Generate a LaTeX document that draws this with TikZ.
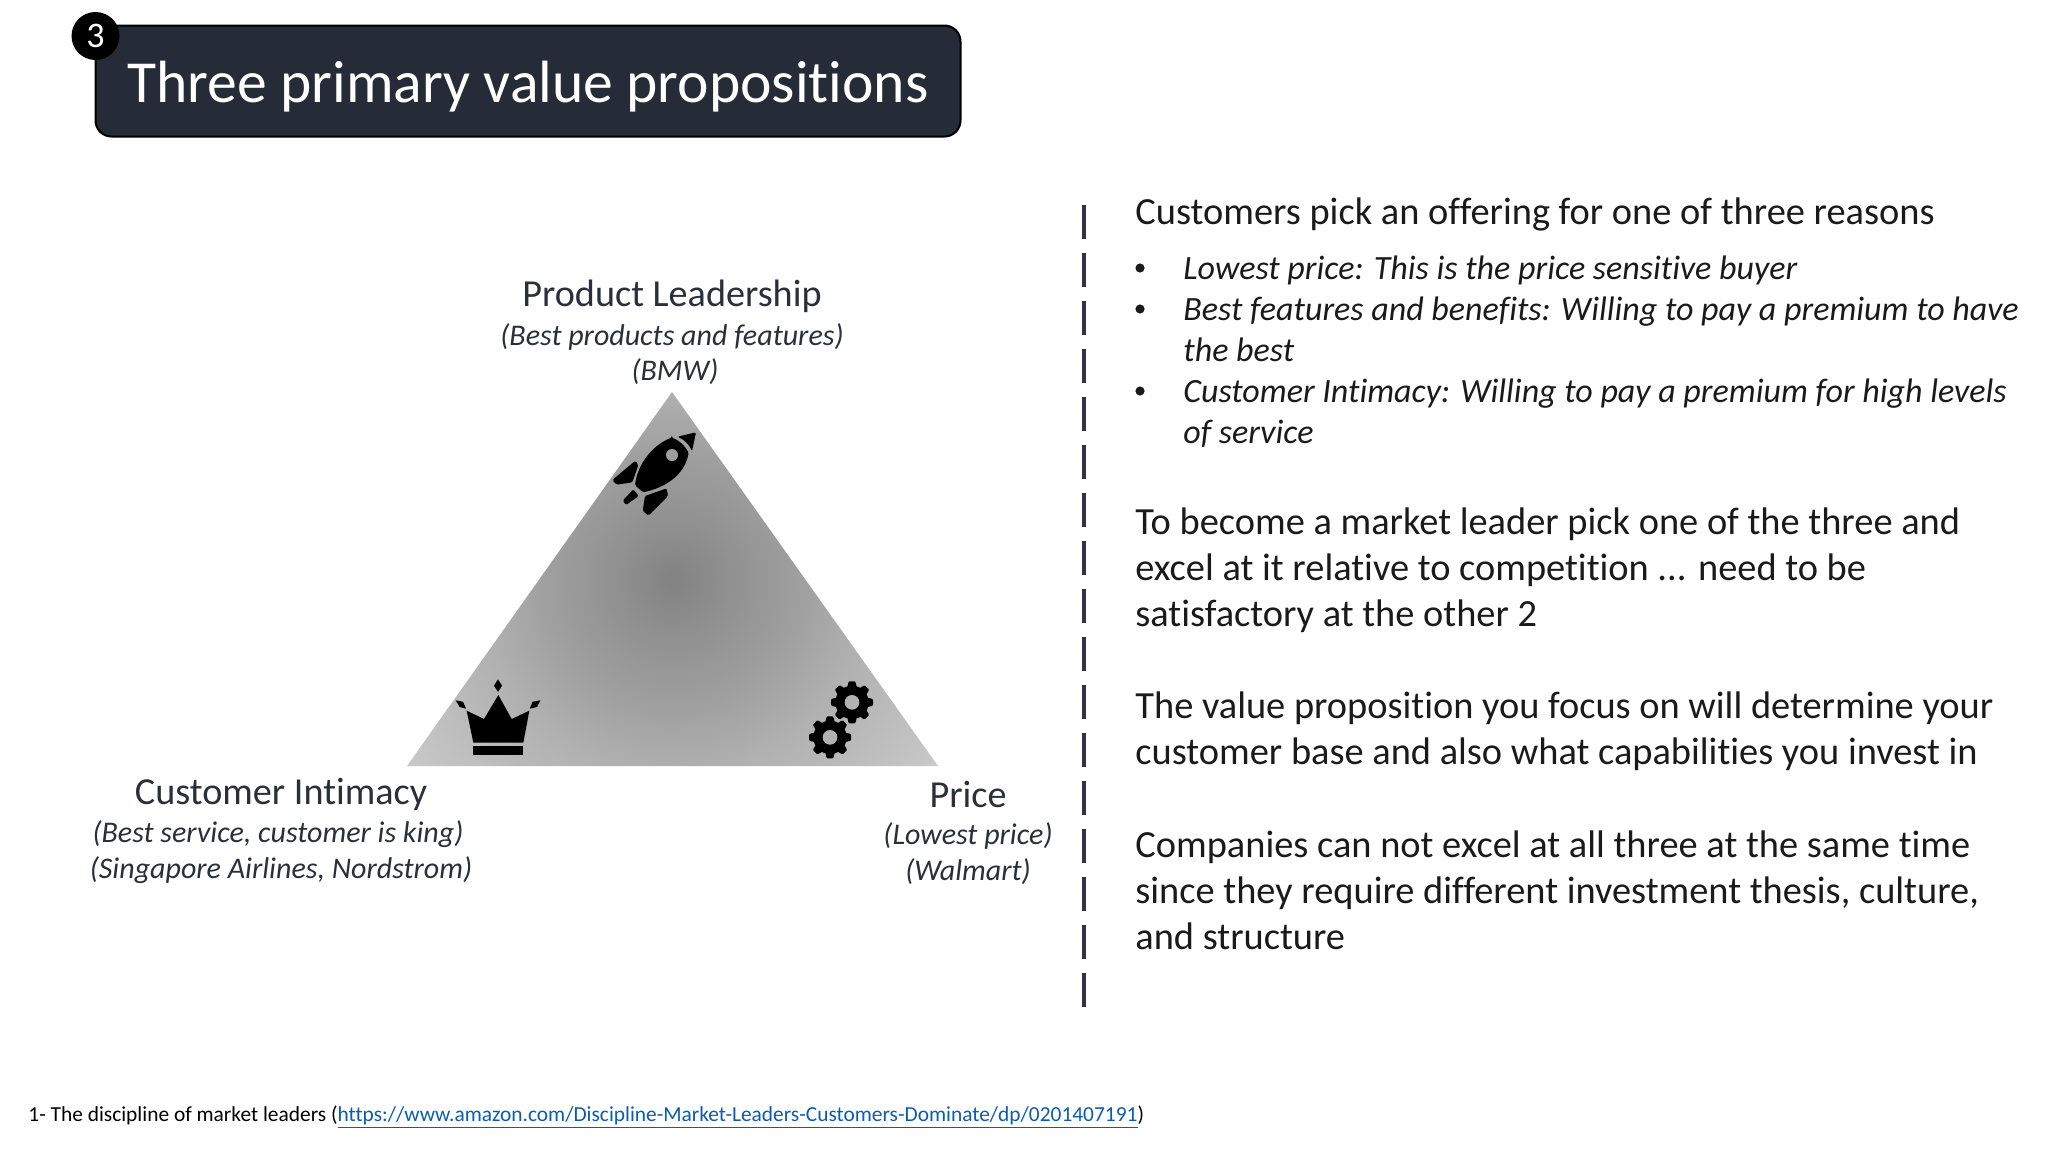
\documentclass[tikz,border=0pt]{standalone}
\usepackage{fontspec}
\setmainfont{Carlito}[Ligatures=NoCommon]
\definecolor{titlebg}{HTML}{262B38}
\definecolor{labelink}{HTML}{2B2F3A}
\definecolor{bodyink}{HTML}{1A1A1A}
\definecolor{rule}{HTML}{2F3545}
\definecolor{linkblue}{HTML}{0A5CB0}
\pgfdeclareradialshading{tripatch}{\pgfpoint{0bp}{0bp}}{
  rgb(0bp)=(0.51,0.51,0.51);
  rgb(4.5bp)=(0.57,0.57,0.57);
  rgb(9bp)=(0.62,0.62,0.62);
  rgb(14bp)=(0.69,0.69,0.69);
  rgb(25bp)=(0.80,0.80,0.80);
  rgb(50bp)=(0.80,0.80,0.80)}
\tikzset{
  heading/.style={inner sep=0pt,text=labelink,font=\fontsize{19.1}{23}\selectfont},
  sublabel/.style={inner sep=0pt,text=labelink,font=\fontsize{15}{18}\selectfont\itshape},
  para/.style={inner sep=0pt,anchor=north west,align=left,text=bodyink,font=\fontsize{19.2}{23}\selectfont},
  itpara/.style={inner sep=0pt,anchor=north west,align=left,text=bodyink,font=\fontsize{17}{20.5}\selectfont\itshape},
  bullet/.style={circle,fill=bodyink,inner sep=0pt,minimum size=4.6pt},
  glyph/.style={fill=black,rounded corners=0.7pt},
  zoomed/.style={x=0.16667pt,y=-0.16667pt}
}
\newcommand{\gearglyph}[2]{%
  \begin{scope}[shift={(#1,#2)}]
    \fill circle[radius=50];
    \foreach \a in {0,45,...,315}
      \fill[rotate=\a,rounded corners=0.5pt] (-15,42) -- (-10,63) -- (10,63) -- (15,42) -- cycle;
    \fill[black!30] circle[radius=22];
  \end{scope}}
\begin{document}
\begin{tikzpicture}[x=0.5pt,y=-0.5pt]
\useasboundingbox (0,0) rectangle (2048,1152);
% title
\node[draw=black,line width=1pt,fill=titlebg,rounded corners=8pt,minimum width=432.5pt,minimum height=55.5pt,inner sep=0pt,text=white,text height=24pt,text depth=3pt,font=\fontsize{29.8}{36}\selectfont] (title) at (528,81) {Three primary value propositions};
\node[circle,fill=black,minimum size=24pt,inner sep=0pt,text=white,font=\fontsize{18}{22}\selectfont] (badge) at (95.5,36) {3};
% triangle
\begin{scope}
  \clip (672,392) -- (938,766) -- (407,766) -- cycle;
  \shade[shading=tripatch] (333,240) rectangle (1013,920);
\end{scope}
% rocket
\begin{scope}[shift={(590,410)},zoomed]
  \fill[glyph] (318,67) -- (262,80) .. controls (285,90) and (298,105) .. (306,124) -- cycle;
  \fill[glyph] (245,83) .. controls (268,91) and (285,108) .. (296,128) .. controls (286,182) and (245,227) .. (160,247) -- (135,226) .. controls (143,160) and (190,104) .. (245,83) -- cycle;
  \fill[black!38] (246,135) circle[radius=18];
  \fill[glyph] (136,152) -- (67,210) -- (80,224) -- (127,217) -- (145,165) -- cycle;
  \fill[glyph] (130,238) -- (98,272) -- (108,285) -- (146,258) -- cycle;
  \fill[glyph] (230,235) -- (165,258) -- (158,302) -- (175,317) -- (234,258) -- cycle;
\end{scope}
% crown
\begin{scope}[shift={(440,670)},zoomed]
  \fill (175,75) -- (215,147) -- (268,122) -- (250,218) -- (100,218) -- (80,122) -- (132,147) -- cycle;
  \fill (98,229) rectangle (250,255);
  \fill (174,28) -- (186,47) -- (174,66) -- (162,47) -- cycle;
  \fill (47,91) -- (69,95) -- (78,116) -- (59,111) -- cycle;
  \fill (301,91) -- (278,95) -- (269,116) -- (291,111) -- cycle;
\end{scope}
% gears
\begin{scope}[shift={(790,670)},zoomed]
  \gearglyph{186}{97}
  \gearglyph{120}{202}
\end{scope}
% triangle labels
\node[heading] (pl) at (672,296) {Product Leadership};
\node[sublabel] (pl1) at (672,336.5) {(Best products and features)};
\node[sublabel] (pl2) at (675,372) {(BMW)};
\node[heading] (ci) at (281,794) {Customer Intimacy};
\node[sublabel] (ci1) at (278,834) {(Best service, customer is king)};
\node[sublabel] (ci2) at (281,870) {(Singapore Airlines, Nordstrom)};
\node[heading] (pr) at (968,794) {Price};
\node[sublabel] (pr1) at (968,836) {(Lowest price)};
\node[sublabel] (pr2) at (968,872) {(Walmart)};
% divider
\coordinate (ruletop) at (1084,205);
\coordinate (rulebot) at (1084,1008);
\draw[rule,line width=2pt,dash pattern=on 17pt off 7pt] (ruletop) -- (rulebot);
% right column
\node[para] (p0) at (1135,197) {Customers pick an offering for one of three reasons};
\node[bullet] (b1) at (1140,268) {};
\node[bullet] (b2) at (1140,309) {};
\node[bullet] (b3) at (1140,391) {};
\node[itpara] (i1) at (1183,255) {Lowest price: This is the price sensitive buyer};
\node[itpara] (i2) at (1183,296) {Best features and benefits: Willing to pay a premium to have\\the best};
\node[itpara] (i3) at (1183,378) {Customer Intimacy: Willing to pay a premium for high levels\\of service};
\node[para] (p1) at (1135,507) {To become a market leader pick one of the three and\\excel at it relative to competition ... need to be\\satisfactory at the other 2};
\node[para] (p2) at (1135,691) {The value proposition you focus on will determine your\\customer base and also what capabilities you invest in};
\node[para] (p3) at (1135,830) {Companies can not excel at all three at the same time\\since they require different investment thesis, culture,\\and structure};
% footnote
\node[inner sep=0pt,anchor=west,text=black,font=\fontsize{10.7}{13}\selectfont] (fn) at (28,1117) {1- The discipline of market leaders ({\color{linkblue}\underline{https://www.amazon.com/Discipline-Market-Leaders-Customers-Dominate/dp/0201407191}})};
\end{tikzpicture}
\end{document}
